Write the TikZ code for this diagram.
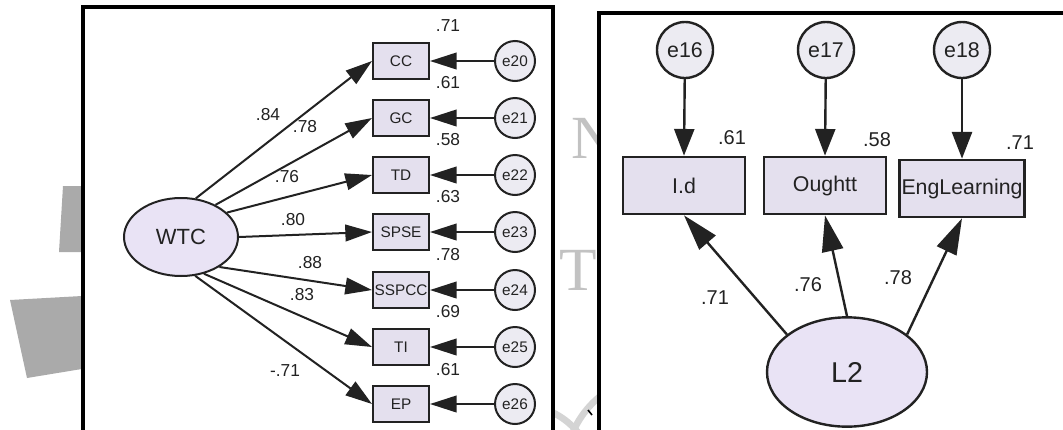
\documentclass[tikz,border=0pt]{standalone}
\usepackage{fontspec}
\setmainfont{Liberation Sans}
\newfontfamily\wmfont{Liberation Serif}
\usetikzlibrary{shapes.geometric,arrows.meta}
\definecolor{boxfill}{HTML}{E4E0EE}
\definecolor{ellfill}{HTML}{E9E3F5}
\definecolor{errfill}{HTML}{ECEBF2}
\definecolor{wmgray}{HTML}{AAAAAA}
\definecolor{wmtext}{HTML}{C2C2C2}
\definecolor{ink}{HTML}{222222}
\begin{document}
\begin{tikzpicture}[x=0.75pt,y=-0.75pt,
  panel/.style={draw=black,line width=2.5pt,fill=white},
  obsL/.style={draw=ink,line width=1.5pt,fill=boxfill,minimum width=42pt,minimum height=27pt,inner sep=0pt,font=\fontsize{11.5}{11.5}\selectfont,text=ink},
  errL/.style={circle,draw=ink,line width=1.5pt,fill=errfill,minimum size=30pt,inner sep=0pt,font=\fontsize{11.5}{11.5}\selectfont,text=ink},
  latL/.style={ellipse,draw=ink,line width=1.5pt,fill=ellfill,minimum width=85.5pt,minimum height=58.5pt,inner sep=0pt,font=\fontsize{16.5}{16.5}\selectfont,text=ink},
  arrL/.style={draw=ink,line width=1.5pt,-{Triangle[length=20pt,width=12.5pt]}},
  lblL/.style={font=\fontsize{13}{13}\selectfont,text=ink,inner sep=0pt},
  obsR/.style={draw=ink,line width=1.8pt,fill=boxfill,minimum width=91.5pt,minimum height=43pt,inner sep=0pt,font=\fontsize{16}{16}\selectfont,text=ink},
  errR/.style={circle,draw=ink,line width=1.8pt,fill=errfill,minimum size=42pt,inner sep=0pt,font=\fontsize{16}{16}\selectfont,text=ink},
  latR/.style={ellipse,draw=ink,line width=1.8pt,fill=ellfill,minimum width=120pt,minimum height=82pt,inner sep=0pt,font=\fontsize{21.5}{21.5}\selectfont,text=ink},
  arrR/.style={draw=ink,line width=1.8pt,-{Triangle[length=20pt,width=15pt]}},
  arrRup/.style={draw=ink,line width=1.8pt,-{Triangle[length=27pt,width=16pt]}},
  lblR/.style={font=\fontsize{15}{15}\selectfont,text=ink,inner sep=0pt}
]
\useasboundingbox (0,0) rectangle (1063,429);
\clip (0,0) rectangle (1063,429);
\fill[white] (0,0) rectangle (1063,429);
% watermark
\fill[wmgray] (63,186) -- (100,186) -- (100,252) -- (59,252) -- cycle;
\fill[wmgray] (10,300) -- (100,295) -- (100,366) -- (27,378) -- cycle;
\node[wmtext,anchor=base west,inner sep=0pt,font=\wmfont\fontsize{46}{46}\selectfont] (wmN) at (571,158) {N};
\node[wmtext,anchor=base,inner sep=0pt,font=\wmfont\fontsize{46}{46}\selectfont] (wmT) at (578,290) {T};
\begin{scope}
\clip (553,300) rectangle (600,429);
\draw[wmtext!70,line width=5pt] (660,470) circle[radius=95];
\draw[wmtext!70,line width=5pt] (520,480) circle[radius=75];
\end{scope}
% panels
\draw[panel] (83,7) rectangle (553,445);
\draw[panel] (599,13) rectangle (1075,445);
\draw[line width=1.2pt] (588,410) -- (592,415);
% ---------- left panel ----------
\node[latL] (wtc) at (181,237) {WTC};
\node[obsL] (cc) at (401,61) {CC};
\node[obsL] (gc) at (401,118) {GC};
\node[obsL] (td) at (401,175) {TD};
\node[obsL] (spse) at (401,232) {SPSE};
\node[obsL] (sspcc) at (401,290) {SSPCC};
\node[obsL] (ti) at (401,347) {TI};
\node[obsL] (ep) at (401,404) {EP};
\node[errL] (e20) at (515,61) {e20};
\node[errL] (e21) at (515,118) {e21};
\node[errL] (e22) at (515,175) {e22};
\node[errL] (e23) at (515,232) {e23};
\node[errL] (e24) at (515,290) {e24};
\node[errL] (e25) at (515,347) {e25};
\node[errL] (e26) at (515,404) {e26};
\draw[arrL] (wtc.69) -- (cc.west);
\draw[arrL] (wtc.43) -- (gc.west);
\draw[arrL] (wtc.28) -- (td.west);
\draw[arrL] (wtc.0) -- (spse.west);
\draw[arrL] (wtc.-38) -- (sspcc.west);
\draw[arrL] (wtc.-58) -- (ti.west);
\draw[arrL] (wtc.-70) -- (ep.west);
\foreach \e/\b in {e20/cc,e21/gc,e22/td,e23/spse,e24/sspcc,e25/ti,e26/ep}
  \draw[arrL] (\e) -- (\b.east);
\node[lblL] (r1) at (448,26) {.71};
\node[lblL] (r2) at (448,83) {.61};
\node[lblL] (r3) at (448,140) {.58};
\node[lblL] (r4) at (448,197) {.63};
\node[lblL] (r5) at (448,255) {.78};
\node[lblL] (r6) at (448,312) {.69};
\node[lblL] (r7) at (448,370) {.61};
\node[lblL] (p1) at (268,115) {.84};
\node[lblL] (p2) at (305,127) {.78};
\node[lblL] (p3) at (287,177) {.76};
\node[lblL] (p4) at (293,220) {.80};
\node[lblL] (p5) at (310,263) {.88};
\node[lblL] (p6) at (302,295) {.83};
\node[lblL] (p7) at (285,371) {-.71};
% ---------- right panel ----------
\node[latR] (l2) at (847,372) {L2};
\node[obsR] (id) at (684,185.5) {I.d};
\node[obsR] (ought) at (825,185.5) {Oughtt};
\node[obsR,minimum width=94pt] (eng) at (962,188.5) {EngLearning};
\node[errR] (e16) at (685,50) {e16};
\node[errR] (e17) at (826,50) {e17};
\node[errR] (e18) at (962,50) {e18};
\draw[arrR] (e16) -- (id.north);
\draw[arrR] (e17) -- (ought.north);
\draw[arrR] (e18) -- (eng.north);
\draw[arrRup] (l2.148) -- (id.south);
\draw[arrRup] (l2.90) -- (ought.south);
\draw[arrRup] (l2.32) -- (eng.south);
\node[lblR] (q1) at (732,138) {.61};
\node[lblR] (q2) at (877,140) {.58};
\node[lblR] (q3) at (1020,143) {.71};
\node[lblR] (s1) at (715,298) {.71};
\node[lblR] (s2) at (808,285) {.76};
\node[lblR] (s3) at (898,278) {.78};
\end{tikzpicture}
\end{document}
